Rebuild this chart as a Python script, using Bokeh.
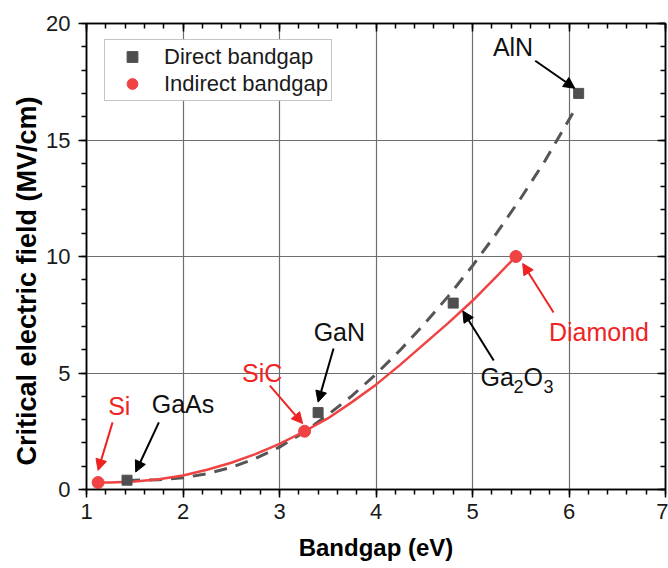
from bokeh.plotting import figure
from bokeh.models import (LinearAxis, Range1d, Legend, LegendItem, Label, Arrow,
                          NormalHead, SingleIntervalTicker, Title)
from bokeh.embed import file_html
from bokeh.resources import INLINE

# ---- data ----
direct_names = ["GaAs", "GaN", "Ga2O3", "AlN"]
direct_x = [1.42, 3.4, 4.8, 6.1]
direct_y = [0.4, 3.3, 8.0, 17.0]

indirect_names = ["Si", "SiC", "Diamond"]
indirect_x = [1.12, 3.26, 5.45]
indirect_y = [0.3, 2.5, 10.0]

# fitted trend lines
direct_fit_x = [1.42, 1.5, 1.75, 2.0, 2.25, 2.5, 2.75, 3.0, 3.25, 3.5, 3.75, 4.0,
                4.25, 4.5, 4.75, 5.0, 5.25, 5.5, 5.75, 6.06]
direct_fit_y = [0.40, 0.40, 0.42, 0.50, 0.68, 0.95, 1.33, 1.82, 2.45, 3.2, 4.02, 4.95,
                5.98, 7.1, 8.3, 9.6, 11.0, 12.5, 14.1, 16.3]
indirect_fit_x = [1.12, 1.25, 1.5, 1.75, 2.0, 2.25, 2.5, 2.75, 3.0, 3.26, 3.5, 3.75,
                  4.0, 4.25, 4.5, 4.75, 5.0, 5.25, 5.45]
indirect_fit_y = [0.30, 0.30, 0.34, 0.44, 0.60, 0.85, 1.15, 1.52, 1.96, 2.5, 3.05, 3.75,
                  4.5, 5.35, 6.25, 7.15, 8.1, 9.15, 10.0]

x_ticks_interval = 1
y_ticks_interval = 5

FONT = "Liberation Sans"
GRAY = "#4f4f4f"
RED = "#f04343"
TXT_RED = "#ee2424"

p = figure(width=668, height=568, x_range=Range1d(1, 7), y_range=Range1d(0, 20),
           output_backend="svg", toolbar_location=None,
           min_border_left=86, min_border_right=3, min_border_top=23, min_border_bottom=79)
p.background_fill_color = "white"
p.border_fill_color = "white"
p.outline_line_color = "black"
p.outline_line_width = 1.5

xt = SingleIntervalTicker(interval=x_ticks_interval, num_minor_ticks=5)
yt = SingleIntervalTicker(interval=y_ticks_interval, num_minor_ticks=5)
p.xaxis.ticker = xt
p.yaxis.ticker = yt
p.xgrid.ticker = xt
p.ygrid.ticker = yt
for g in (p.xgrid, p.ygrid):
    g.grid_line_color = "#6e6e6e"
    g.grid_line_width = 1.2

for ax in (p.xaxis, p.yaxis):
    ax.axis_line_color = "black"
    ax.axis_line_width = 1.5
    ax.major_tick_line_color = "black"
    ax.minor_tick_line_color = "black"
    ax.major_tick_line_width = 1.5
    ax.minor_tick_line_width = 1.5
    ax.major_tick_out = 8
    ax.major_tick_in = 0
    ax.minor_tick_out = 5
    ax.minor_tick_in = 0
    ax.major_label_text_font = FONT
    ax.major_label_text_font_size = "22px"
    ax.major_label_text_color = "#1a1a1a"
    ax.axis_label_text_font = FONT
    ax.axis_label_text_font_style = "bold"
    ax.axis_label_text_color = "black"

p.xaxis.major_label_standoff = 6
p.yaxis.major_label_standoff = 8
p.xaxis.axis_label = "Bandgap (eV)"
p.xaxis.axis_label_text_font_size = "24px"
p.xaxis.axis_label_standoff = 12

for loc, tick in (("above", xt), ("right", yt)):
    ax = LinearAxis(ticker=tick, major_label_text_font_size="0px", major_label_standoff=0,
                    major_tick_in=8, major_tick_out=0, minor_tick_in=5, minor_tick_out=0,
                    axis_line_width=1.5, major_tick_line_width=1.5, minor_tick_line_width=1.5,
                    axis_line_color="black", major_tick_line_color="black",
                    minor_tick_line_color="black")
    p.add_layout(ax, loc)

# y-axis title as a side title in the left margin
p.add_layout(Title(text="Critical electric field (MV/cm)", align="left",
                   text_font=FONT, text_font_size="27px", text_font_style="bold",
                   text_color="black", standoff=4, offset=24), "left")

# trend lines
p.line(direct_fit_x, direct_fit_y, line_color="#555555", line_width=3, line_dash="13 9")
p.line(indirect_fit_x, indirect_fit_y, line_color=RED, line_width=2.5, line_join="round")

# points
r_direct = p.scatter(direct_x, direct_y, marker="square", size=10,
                     fill_color=GRAY, line_color=GRAY)
r_indirect = p.scatter(indirect_x, indirect_y, marker="circle", size=12,
                       fill_color=RED, line_color=RED)

legend = Legend(items=[LegendItem(label="Direct bandgap", renderers=[r_direct]),
                       LegendItem(label="Indirect bandgap", renderers=[r_indirect])],
                location=(18, 388), margin=0, padding=3, spacing=0,
                glyph_width=48, glyph_height=27, label_height=27, label_standoff=8,
                label_text_font=FONT, label_text_font_size="22px",
                label_text_color="#1a1a1a",
                border_line_color="#8a8a8a", border_line_width=1.2,
                background_fill_color="white", background_fill_alpha=1)
p.add_layout(legend)

# annotations: text positions and arrows (data coordinates)
ann_names = ["AlN", "GaN", "GaAs", "Si", "SiC", "Diamond"]
ann_colors = ["#111111", "#111111", "#111111", TXT_RED, TXT_RED, TXT_RED]
ann_tx = [5.42, 3.62, 2.00, 1.34, 2.82, 6.31]
ann_ty = [18.97, 6.76, 3.65, 3.60, 5.02, 6.78]
arr_x0 = [5.65, 3.56, 1.75, 1.27, 2.90, 5.84]
arr_y0 = [18.40, 6.05, 2.88, 2.88, 4.46, 7.60]
arr_x1 = [6.06, 3.40, 1.51, 1.12, 3.24, 5.52]
arr_y1 = [17.22, 3.75, 0.75, 0.82, 2.83, 9.70]

for name, c, tx, ty in zip(ann_names, ann_colors, ann_tx, ann_ty):
    p.add_layout(Label(x=tx, y=ty, text=name, text_font=FONT, text_font_size="25px",
                       text_color=c, text_align="center", text_baseline="middle"))

for c, x0, y0, x1, y1 in zip(ann_colors, arr_x0, arr_y0, arr_x1, arr_y1):
    col = "black" if c != TXT_RED else "#ee2222"
    p.add_layout(Arrow(x_start=x0, y_start=y0, x_end=x1, y_end=y1,
                       line_color=col, line_width=2,
                       end=NormalHead(size=11, fill_color=col, line_color=col)))

# Ga2O3 label with subscripts
ga_x, ga_y = 5.083, 4.81
pieces = [("Ga", 0, 0, "25px"), ("2", 33, -9, "18px"), ("O", 43, 0, "25px"), ("3", 63, -9, "18px")]
for t, dx, dy, fs in pieces:
    p.add_layout(Label(x=ga_x, y=ga_y, x_offset=dx, y_offset=dy, text=t, text_font=FONT,
                       text_font_size=fs, text_color="#111111", text_align="left",
                       text_baseline="middle"))
p.add_layout(Arrow(x_start=5.22, y_start=5.54, x_end=4.90, y_end=7.66,
                   line_color="black", line_width=2,
                   end=NormalHead(size=11, fill_color="black", line_color="black")))

open("out.html", "w").write(file_html(p, INLINE))
